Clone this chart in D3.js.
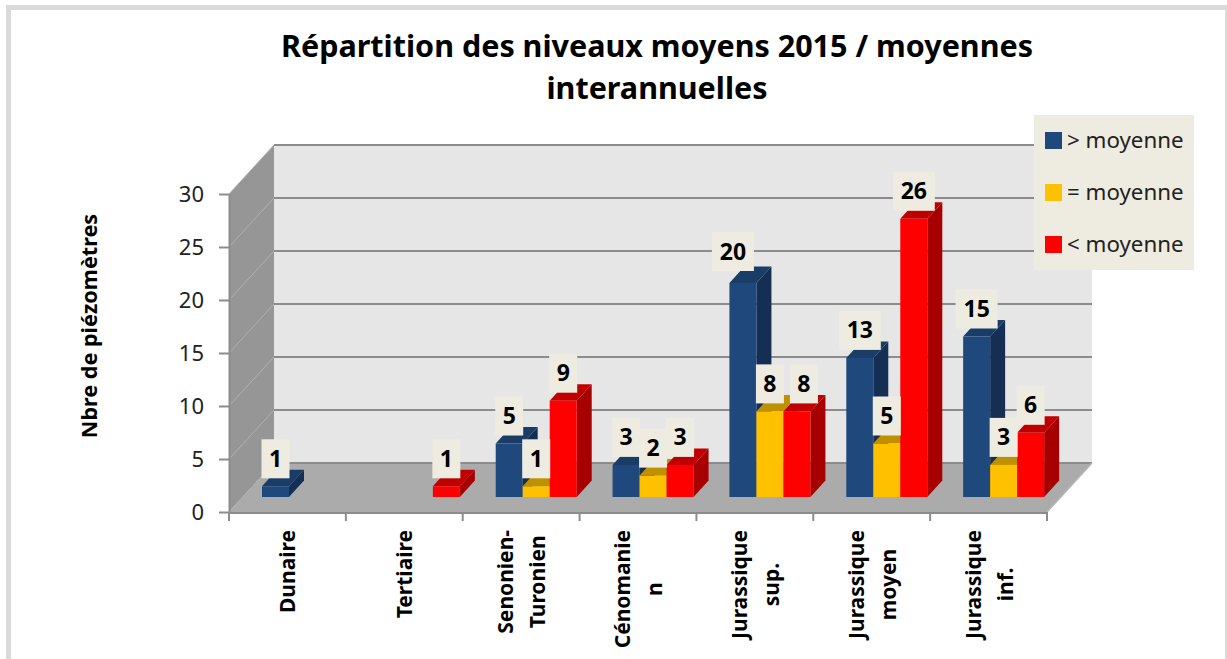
<!DOCTYPE html>
<html>
<head>
<meta charset="utf-8">
<script src="https://cdn.jsdelivr.net/npm/d3@7"></script>
<style>
  body { margin: 0; background: #fff; }
  svg { display: block; font-family: "Noto Sans", sans-serif; }
</style>
</head>
<body>
<div id="chart-container"></div>
<script>
// values
const categories = ["Dunaire", "Tertiaire", "Senonien-|Turonien", "Cénomanie|n", "Jurassique|sup.", "Jurassique|moyen", "Jurassique|inf."];
const seriesNames = ["> moyenne", "= moyenne", "< moyenne"];
const superieur = [1, null, 5, 3, 20, 13, 15];
const egal = [null, null, 1, 2, 8, 5, 3];
const inferieur = [null, 1, 9, 3, 8, 26, 6];
const yTicks = [0, 5, 10, 15, 20, 25, 30];
const titleLines = ["Répartition des niveaux moyens 2015 / moyennes", "interannuelles"];

const width = 1227;
const height = 659;

const fronts = ["#1F497D", "#FFC000", "#FF0000"];
const tops = ["#1A3D68", "#BF9000", "#C00000"];
const sides = ["#152F54", "#BF9000", "#A60000"];
const boxColor = "#EEECE1";
const lineColor = "#8C8C8C";

// 3D offsets
const wallDx = 45, wallDy = -49;
const barDx = 15, barDy = -16.5;

const svg = d3.select("#chart-container").append("svg")
    .attr("width", width)
    .attr("height", height);

// outer frame (no bottom edge in the picture)
svg.append("rect").attr("x", 6).attr("y", 5).attr("width", 5).attr("height", 654).attr("fill", "#DADADA");
svg.append("rect").attr("x", 6).attr("y", 5).attr("width", 1221).attr("height", 5).attr("fill", "#DADADA");
svg.append("rect").attr("x", 1225).attr("y", 5).attr("width", 2).attr("height", 654).attr("fill", "#DADADA");

const x = d3.scaleBand().domain(categories).range([229, 1047]);
const xInner = d3.scaleBand().domain(seriesNames).range([33, 114]);
const y = d3.scaleLinear().domain([0, 30]).range([512, 194]);
// bars stand further back on the floor, so they get their own scale
const yBar = d3.scaleLinear().domain([0, 30]).range([497, 176]);

const [x0, x1] = x.range();
const pts = a => a.map(p => p.join(",")).join(" ");

// back wall, side wall, floor
svg.append("polygon")
    .attr("points", pts([[x0 + wallDx, y(30) + wallDy], [x1 + wallDx, y(30) + wallDy], [x1 + wallDx, y(0) + wallDy], [x0 + wallDx, y(0) + wallDy]]))
    .attr("fill", "#E6E6E6");
svg.append("polygon")
    .attr("points", pts([[x0, y(30)], [x0 + wallDx, y(30) + wallDy], [x0 + wallDx, y(0) + wallDy], [x0, y(0)]]))
    .attr("fill", "#969696");
svg.append("polygon")
    .attr("points", pts([[x0, y(0)], [x0 + wallDx, y(0) + wallDy], [x1 + wallDx, y(0) + wallDy], [x1, y(0)]]))
    .attr("fill", "#ABABAB");

// gridlines
svg.append("g").selectAll("line").data(yTicks).join("line")
    .attr("x1", x0 + wallDx).attr("x2", x1 + wallDx)
    .attr("y1", d => y(d) + wallDy).attr("y2", d => y(d) + wallDy)
    .attr("stroke", lineColor).attr("stroke-width", 2);
svg.append("g").selectAll("line").data(yTicks).join("line")
    .attr("x1", x0).attr("x2", x0 + wallDx)
    .attr("y1", d => y(d)).attr("y2", d => y(d) + wallDy)
    .attr("stroke", "#B0B0B0").attr("stroke-width", 1);
svg.append("line")
    .attr("x1", x1).attr("x2", x1 + wallDx)
    .attr("y1", y(0)).attr("y2", y(0) + wallDy)
    .attr("stroke", "#B5B5B5").attr("stroke-width", 1.5);

// y axis
const yAxis = svg.append("g")
    .attr("transform", `translate(${x0},0)`)
    .call(d3.axisLeft(y).tickValues(yTicks).tickSize(10).tickSizeOuter(0).tickPadding(15));
yAxis.select(".domain").attr("stroke", lineColor).attr("stroke-width", 2);
yAxis.selectAll("line").attr("stroke", lineColor).attr("stroke-width", 2);
yAxis.selectAll("text").attr("font-size", 22).attr("font-family", "Noto Sans").attr("fill", "#222");

// x axis: ticks sit on band edges, labels rotated under the middle of the band
const xEdges = categories.map(c => x(c)).concat([x1]);
svg.append("line").attr("x1", x0).attr("x2", x1).attr("y1", y(0) + 1).attr("y2", y(0) + 1)
    .attr("stroke", lineColor).attr("stroke-width", 2);
svg.append("g").selectAll("line").data(xEdges).join("line")
    .attr("x1", d => d).attr("x2", d => d)
    .attr("y1", y(0)).attr("y2", y(0) + 9)
    .attr("stroke", lineColor).attr("stroke-width", 2);

const labelTop = 530;
const catFont = 21;
categories.forEach(c => {
    const lines = c.split("|");
    const g = svg.append("g").attr("font-size", catFont).attr("font-weight", "bold").attr("fill", "#000");
    const texts = lines.map(l => g.append("text").attr("text-anchor", "middle").text(l));
    const longest = d3.max(texts, t => t.node().getComputedTextLength());
    const cy = labelTop + longest / 2;
    const cx = x(c) + x.bandwidth() / 2;
    texts.forEach((t, i) => {
        const off = lines.length === 1 ? 0 : (i === 0 ? -16 : 16);
        t.attr("transform", `translate(${cx + off + 8},${cy}) rotate(-90)`);
    });
});

// bars, series by series inside each category so later bars cover earlier sides
const allSeries = [superieur, egal, inferieur];
const barW = xInner.bandwidth();
const barsG = svg.append("g");
categories.forEach((c, ci) => {
    seriesNames.forEach((s, si) => {
        const v = allSeries[si][ci];
        if (v == null) return;
        const left = x(c) + xInner(s);
        const right = left + barW;
        const top = yBar(v);
        const bottom = yBar(0);
        barsG.append("polygon")
            .attr("points", pts([[right, top], [right + barDx, top + barDy], [right + barDx, bottom + barDy], [right, bottom]]))
            .attr("fill", sides[si]);
        barsG.append("polygon")
            .attr("points", pts([[left, top], [left + barDx, top + barDy], [right + barDx, top + barDy], [right, top]]))
            .attr("fill", tops[si]);
        barsG.append("rect")
            .attr("x", left).attr("y", top)
            .attr("width", barW).attr("height", bottom - top)
            .attr("fill", fronts[si]);
    });
});

// data labels on their little boxes; two were dragged by hand in the original
const labelNudge = { "4-0": [-10, -4], "4-2": [7, 0] };
const labelsG = svg.append("g");
categories.forEach((c, ci) => {
    seriesNames.forEach((s, si) => {
        const v = allSeries[si][ci];
        if (v == null) return;
        const [nx, ny] = labelNudge[ci + "-" + si] || [0, 0];
        const w = v >= 10 ? 42 : 28;
        const h = 39;
        const cx = x(c) + xInner(s) + barW / 2 + nx;
        const bottom = yBar(v) - 8 + ny;
        labelsG.append("rect")
            .attr("x", cx - w / 2).attr("y", bottom - h)
            .attr("width", w).attr("height", h)
            .attr("fill", boxColor);
        labelsG.append("text")
            .attr("x", cx).attr("y", bottom - h / 2 + 8)
            .attr("text-anchor", "middle")
            .attr("font-size", 23).attr("font-weight", "bold").attr("fill", "#000")
            .text(v);
    });
});

// legend
svg.append("rect").attr("x", 1034).attr("y", 115).attr("width", 160).attr("height", 155).attr("fill", boxColor);
const legendY = d3.scalePoint().domain(seriesNames).range([141, 245]);
const legend = svg.append("g").selectAll("g").data(seriesNames).join("g")
    .attr("transform", d => `translate(1045,${legendY(d)})`);
legend.append("rect").attr("y", -9).attr("width", 17).attr("height", 17).attr("fill", (d, i) => fronts[i]);
legend.append("text").attr("x", 22).attr("y", 7)
    .attr("font-size", 22.3).attr("fill", "#222")
    .text(d => d);

// title and y axis title
svg.append("g").selectAll("text").data(titleLines).join("text")
    .attr("x", 657)
    .attr("y", (d, i) => 57 + i * 42)
    .attr("text-anchor", "middle")
    .attr("font-size", 30.5).attr("font-weight", "bold").attr("fill", "#000")
    .text(d => d);

svg.append("text")
    .attr("transform", "translate(97,326) rotate(-90)")
    .attr("text-anchor", "middle")
    .attr("font-size", 21.6).attr("font-weight", "bold").attr("fill", "#000")
    .text("Nbre de piézomètres");
</script>
</body>
</html>
